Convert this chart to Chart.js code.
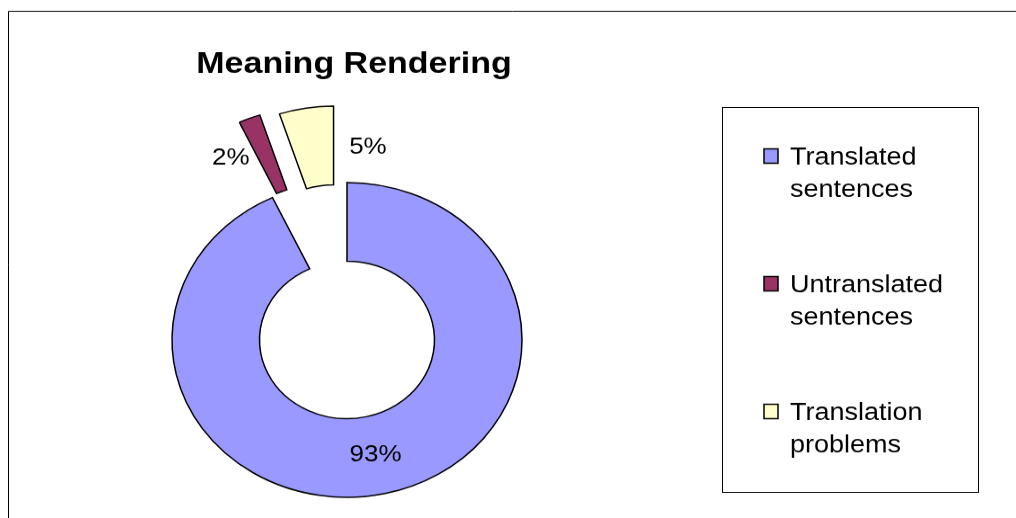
<!DOCTYPE html>
<html>
<head>
<meta charset="utf-8">
<script src="https://cdn.jsdelivr.net/npm/chart.js@4"></script>
<style>
    html, body { margin: 0; padding: 0; background: #fff; overflow: hidden; }
    /* the original picture is squashed vertically, so draw round and squash the canvas */
    #meaningChart { display: block; width: 1016px; height: 576px; transform: scaleY(0.8993); transform-origin: 0 0; }
</style>
</head>
<body>
<canvas id="meaningChart" width="1016" height="576"></canvas>
<script>
const chartTitle = "Meaning Rendering";
const categories = ["Translated sentences", "Untranslated sentences", "Translation problems"];
const shares = [93, 2, 5];

const FONT = "'Liberation Sans', Arial, sans-serif";
const sliceColors = ["#9999FF", "#993366", "#FFFFCC"];
const explodeBy = [0, 90, 86];        // px the slice is pulled out along its middle angle
const labelSide = [0, -1, 1];         // 0 = inside ring, -1 left of slice, 1 right of slice

/* ================= PLUGINS ================= */

// Chart.js "offset" narrows thin slices, so pull them out with a plain translate instead
const explodeSlices = {
    id: "explodeSlices",
    beforeDatasetsDraw(chart) {
        chart.getDatasetMeta(0).data.forEach((arc, i) => {
            if (arc._exploded) return;
            const baseDraw = arc.draw.bind(arc);
            arc.draw = function (ctx, area) {
                const d = explodeBy[i] || 0;
                const mid = (this.startAngle + this.endAngle) / 2;
                ctx.save();
                ctx.translate(Math.cos(mid) * d, Math.sin(mid) * d);
                baseDraw(ctx, area);
                ctx.restore();
            };
            arc._exploded = true;
        });
    }
};

const framePlugin = {
    id: "frame",
    beforeDraw(chart) {
        const ctx = chart.ctx;
        ctx.save();
        ctx.strokeStyle = "#000";
        ctx.lineWidth = 1;
        ctx.beginPath();
        ctx.moveTo(8.5, chart.height);
        ctx.lineTo(8.5, 12.5);
        ctx.lineTo(chart.width, 12.5);
        ctx.stroke();

        ctx.fillStyle = "#000";
        ctx.font = "bold 34px " + FONT;
        ctx.textAlign = "center";
        ctx.textBaseline = "alphabetic";
        ctx.fillText(chartTitle, 354, 81);
        ctx.restore();
    }
};

const percentLabels = {
    id: "percentLabels",
    afterDatasetsDraw(chart) {
        const ctx = chart.ctx;
        const meta = chart.getDatasetMeta(0);
        ctx.save();
        ctx.font = "26px " + FONT;
        ctx.fillStyle = "#000";
        ctx.textAlign = "center";
        ctx.textBaseline = "middle";
        meta.data.forEach((arc, i) => {
            const p = arc.getProps(["x", "y", "startAngle", "endAngle", "innerRadius", "outerRadius"], true);
            const mid = (p.startAngle + p.endAngle) / 2;
            const circ = p.endAngle - p.startAngle;
            const r = (p.innerRadius + p.outerRadius) / 2 + (explodeBy[i] || 0);
            let x = p.x + Math.cos(mid) * r;
            let y = p.y + Math.sin(mid) * r;
            const text = shares[i] + "%";
            if (labelSide[i] !== 0) {
                x += labelSide[i] * (r * circ / 2 + ctx.measureText(text).width / 2 + 2);
                if (labelSide[i] < 0) y += 4;
            }
            ctx.fillText(text, x, y);
        });
        ctx.restore();
    }
};

const boxLegend = {
    id: "boxLegend",
    afterDraw(chart) {
        const ctx = chart.ctx;
        const box = { x: 722.5, y: 119.5, w: 256, h: 428 };
        ctx.save();
        ctx.strokeStyle = "#000";
        ctx.lineWidth = 1;
        ctx.strokeRect(box.x, box.y, box.w, box.h);

        ctx.font = "27px " + FONT;
        ctx.textAlign = "left";
        ctx.textBaseline = "alphabetic";
        categories.forEach((name, i) => {
            const cy = box.y + 54 + i * 142;
            ctx.fillStyle = sliceColors[i];
            ctx.fillRect(764, cy - 8, 14, 16);
            ctx.strokeStyle = "#000";
            ctx.lineWidth = 1.5;
            ctx.strokeRect(764, cy - 8, 14, 16);

            ctx.fillStyle = "#000";
            const words = name.split(" ");
            ctx.fillText(words[0], 790, cy + 9);
            ctx.fillText(words.slice(1).join(" "), 790, cy + 45);
        });
        ctx.restore();
    }
};

/* ================= CHART ================= */

new Chart(document.getElementById("meaningChart"), {
    type: "doughnut",
    data: {
        labels: categories,
        datasets: [{
            data: shares,
            backgroundColor: sliceColors,
            borderColor: "#000",
            borderWidth: 1.5,
            borderJoinStyle: "miter",
            hoverOffset: 0
        }]
    },
    options: {
        responsive: false,
        devicePixelRatio: 1,
        animation: false,
        events: [],
        radius: 175,
        cutout: "50%",
        layout: { padding: { left: 100, right: 422, top: 180, bottom: 0 } },
        plugins: {
            legend: { display: false },
            title: { display: false },
            tooltip: { enabled: false }
        }
    },
    plugins: [explodeSlices, framePlugin, percentLabels, boxLegend]
});
</script>
</body>
</html>
